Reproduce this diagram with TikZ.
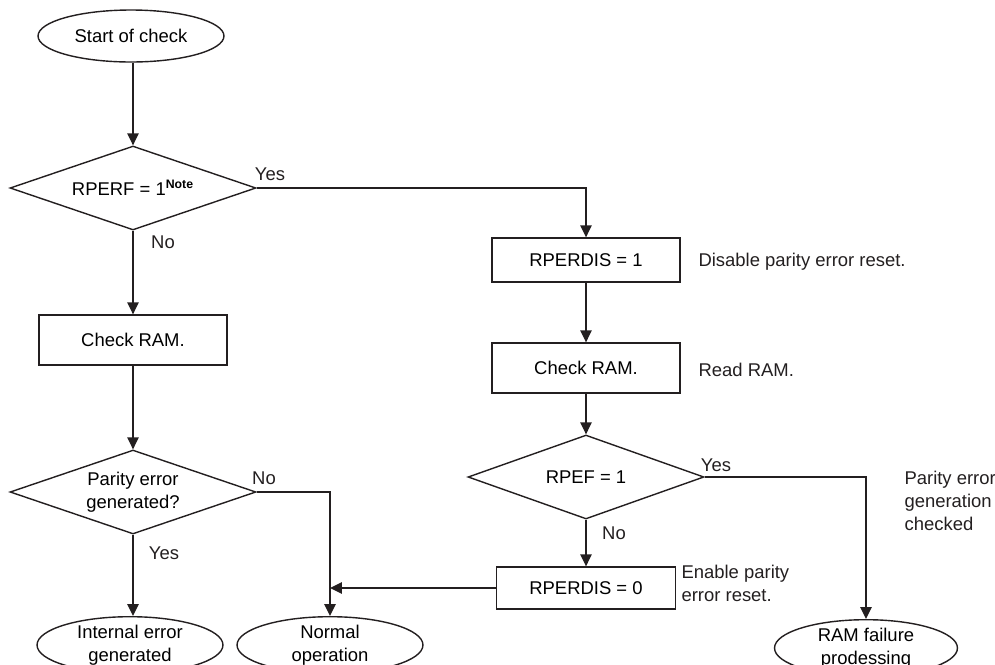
\documentclass[tikz,border=0pt]{standalone}
\usepackage{fontspec}
\setsansfont{Liberation Sans}
\usetikzlibrary{arrows.meta, positioning, shapes.geometric}
\definecolor{cline}{HTML}{231F20}
\tikzset{
  every picture/.style={font=\sffamily\fontsize{10.5}{13}\selectfont, line width=0.8pt, x=0.02cm, y=-0.02cm},
  box/.style={draw=cline, rectangle, align=center, inner sep=2pt, minimum width=3.76cm, minimum height=1.0cm},
  term/.style={draw=cline, ellipse, align=center, inner sep=0pt, minimum width=3.72cm, minimum height=1.04cm},
  cond/.style={draw=cline, diamond, aspect=2.93, align=center, inner sep=0pt, minimum width=4.92cm, minimum height=1.68cm},
  arrow/.style={-{Triangle[length=2.4mm, width=2.3mm]}, draw=cline},
  lbl/.style={text=cline},
  note/.style={text=cline, align=left, anchor=west},
}

\begin{document}
\begin{tikzpicture}
  \useasboundingbox (0,0) rectangle (995,664);
  % left column
  \node[term] (start) at (131, 36) {Start of check};
  \node[cond] (q1) at (133, 188) {RPERF = 1\textsuperscript{\bfseries\fontsize{7}{8}\selectfont Note}};
  \node[box] (chk1) at (133, 340) {Check RAM.};
  \node[cond] (q2) at (133, 492) {Parity error\\generated?};
  \node[term] (err) at (130, 645) {Internal error\\generated};
  \node[term] (normal) at (330, 645) {Normal\\operation};
  % right column
  \node[box, minimum height=0.88cm] (dis1) at (586, 260) {RPERDIS = 1};
  \node[box] (chk2) at (586, 368) {Check RAM.};
  \node[cond, minimum width=4.72cm, aspect=2.81] (q3) at (586, 477) {RPEF = 1};
  \node[box, minimum width=3.58cm, minimum height=0.84cm] (dis0) at (586, 588) {RPERDIS = 0};
  \node[term, minimum width=3.66cm] (fail) at (866, 648) {RAM failure\\prodessing};
  % branch labels
  \node[lbl] (yes1) at (270, 174) {Yes};
  \node[lbl] (no1) at (163, 242) {No};
  \node[lbl] (no2) at (264, 478) {No};
  \node[lbl] (yes2) at (164, 553) {Yes};
  \node[lbl] (yes3) at (716, 465) {Yes};
  \node[lbl] (no3) at (614, 533) {No};
  % side notes
  \node[note] (n1) at (692, 262) {Disable parity error reset.};
  \node[note] (n2) at (692, 370) {Read RAM.};
  \node[note] (n3) at (675, 583) {Enable parity\\error reset.};
  \node[note] (n4) at (898, 501) {Parity error\\generation\\checked};
  % connectors
  \draw[arrow] (start.south -| q1.north) -- (q1.north);
  \draw[arrow] (q1.east) -| (dis1.north);
  \draw[arrow] (q1.south) -- (chk1.north);
  \draw[arrow] (chk1.south) -- (q2.north);
  \draw[arrow] (q2.east) -| (normal.north);
  \draw[arrow] (q2.south) -- (q2.south |- err.north);
  \draw[arrow] (dis1.south) -- (chk2.north);
  \draw[arrow] (chk2.south) -- (q3.north);
  \draw[arrow] (q3.east) -| (fail.north);
  \draw[arrow] (q3.south) -- (dis0.north);
  \draw[arrow] (dis0.west) -- (dis0.west -| normal.north);
\end{tikzpicture}
\end{document}
